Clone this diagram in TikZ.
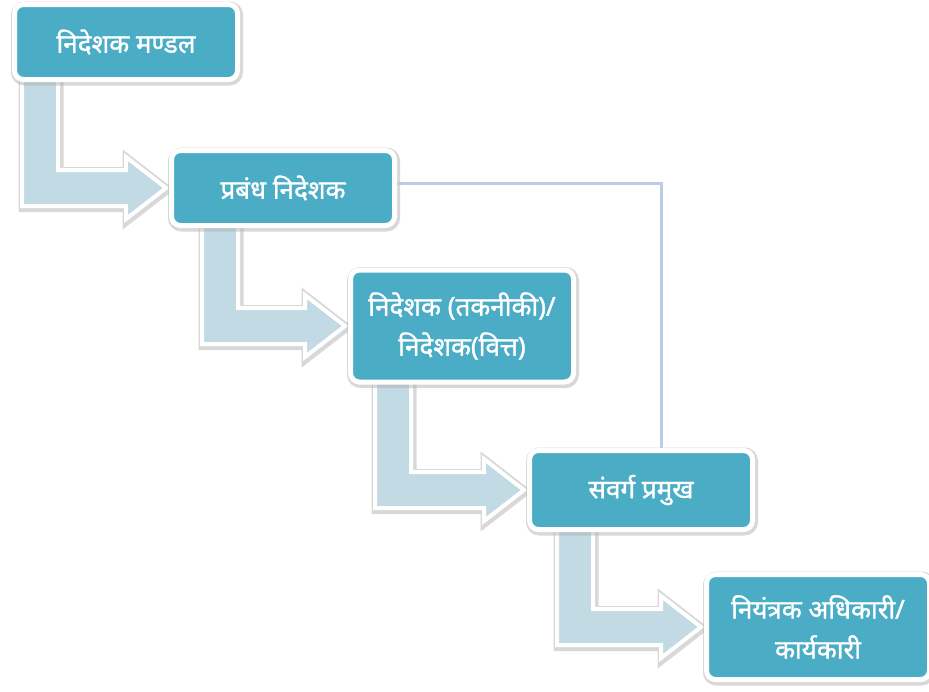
\documentclass[tikz,border=0pt]{standalone}
\usepackage{fontspec}
\newfontfamily\devfont[Script=Devanagari, FakeBold=1.3]{Noto Sans}
\usetikzlibrary{calc,backgrounds}
\definecolor{boxteal}{HTML}{4BACC6}
\definecolor{arrowblue}{HTML}{C1DAE4}
\definecolor{linkblue}{HTML}{B9CDE5}
\begin{document}
\begin{tikzpicture}[x=1pt, y=-1pt,
		softshadow/.style={preaction={draw=black!30, line width=9pt, opacity=0.5, transform canvas={shift={(1pt,-1.5pt)}}}},
		orgbox/.style={softshadow, draw=white, line width=5pt, fill=boxteal, rounded corners=9pt, text=white, align=center,
			minimum width=223pt, font=\devfont\fontsize{26}{40}\selectfont},
		flowarrow/.style={softshadow, draw=white, line width=4pt, fill=arrowblue}]
		\useasboundingbox (0,0) rectangle (929,691);

		\node[orgbox, minimum height=75pt] (b1) at (126,42) {निदेशक मण्डल};
		\node[orgbox, minimum height=75pt] (b2) at (283,188) {प्रबंध निदेशक};
		\node[orgbox, minimum height=112pt] (b3) at (462,326) {निदेशक (तकनीकी)/\\निदेशक(वित्त)};
		\node[orgbox, minimum height=79pt] (b4) at (641,490) {संवर्ग प्रमुख};
		\node[orgbox, minimum height=105pt] (b5) at (818,627) {नियंत्रक अधिकारी/\\कार्यकारी};

		\coordinate (jn) at (661,183);
		\draw[linkblue, line width=3pt] (b2.east |- jn) -| (b4.north -| jn);

		\begin{scope}[on background layer]
			\path[flowarrow] let \p1=(b1.south west), \p2=(b2.west) in
				(\x1+10pt,\y1+12pt) -- (\x1+10pt,\y2-18pt) -- (\x2-43pt,\y2-18pt) -- (\x2-43pt,\y2-31pt) -- (\x2-3pt,\y2)
				-- (\x2-43pt,\y2+31pt) -- (\x2-43pt,\y2+18pt) -- (\x1+46pt,\y2+18pt) -- (\x1+46pt,\y1+12pt) -- cycle;
			\path[flowarrow] let \p1=(b2.south west), \p2=(b3.west) in
				(\x1+33pt,\y1+12pt) -- (\x1+33pt,\y2-18pt) -- (\x2-43pt,\y2-18pt) -- (\x2-43pt,\y2-31pt) -- (\x2-3pt,\y2)
				-- (\x2-43pt,\y2+31pt) -- (\x2-43pt,\y2+18pt) -- (\x1+69pt,\y2+18pt) -- (\x1+69pt,\y1+12pt) -- cycle;
			\path[flowarrow] let \p1=(b3.south west), \p2=(b4.west) in
				(\x1+27pt,\y1+12pt) -- (\x1+27pt,\y2-18pt) -- (\x2-43pt,\y2-18pt) -- (\x2-43pt,\y2-31pt) -- (\x2-3pt,\y2)
				-- (\x2-43pt,\y2+31pt) -- (\x2-43pt,\y2+18pt) -- (\x1+63pt,\y2+18pt) -- (\x1+63pt,\y1+12pt) -- cycle;
			\path[flowarrow] let \p1=(b4.south west), \p2=(b5.west) in
				(\x1+30pt,\y1+12pt) -- (\x1+30pt,\y2-18pt) -- (\x2-43pt,\y2-18pt) -- (\x2-43pt,\y2-31pt) -- (\x2-3pt,\y2)
				-- (\x2-43pt,\y2+31pt) -- (\x2-43pt,\y2+18pt) -- (\x1+66pt,\y2+18pt) -- (\x1+66pt,\y1+12pt) -- cycle;
		\end{scope}
	\end{tikzpicture}
\end{document}
